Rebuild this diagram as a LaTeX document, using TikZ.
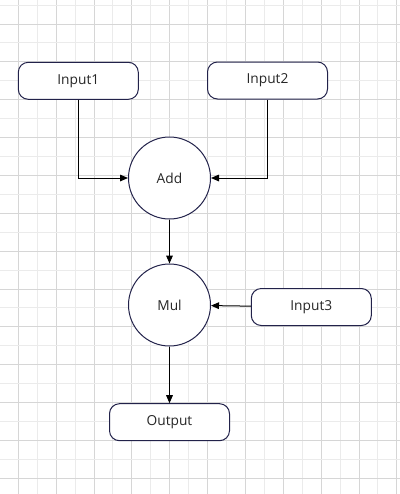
\documentclass[tikz,border=0pt]{standalone}
\usepackage{fontspec}
\setmainfont{Open Sans}
\usepackage{tikz}
\usetikzlibrary{positioning,arrows.meta}

\definecolor{boxline}{HTML}{22224A}
\definecolor{gridmajor}{HTML}{D6D6D6}
\definecolor{gridminor}{HTML}{EBEBEB}

\tikzset{
	inbox/.style={rectangle,rounded corners=7.5pt,draw=boxline,line width=0.75pt,fill=white,minimum width=90pt,minimum height=27.75pt,inner sep=0pt},
	opnode/.style={circle,draw=boxline,line width=0.75pt,fill=white,minimum size=61.5pt,inner sep=0pt},
	edge/.style={line width=0.75pt,-{Triangle[length=6pt,width=5pt]}}
}

\begin{document}
\begin{tikzpicture}[x=0.75pt,y=-0.75pt,every node/.style={font=\fontsize{10.3}{12}\selectfont,text=black!85}]

		\useasboundingbox (0,0) rectangle (400,494);
		\fill[white] (0,0) rectangle (400,494);

		%grid
		\foreach \k in {-1,...,20} {
			\pgfmathsetmacro{\gx}{18.3+\k*18.93}
			\pgfmathtruncatemacro{\odd}{mod(\k+2,2)}
			\ifnum\odd=1 \draw[gridminor,line width=0.75pt] (\gx,0) -- (\gx,494);
			\else \draw[gridmajor,line width=0.75pt] (\gx,0) -- (\gx,494); \fi
		}
		\foreach \k in {-1,...,24} {
			\pgfmathsetmacro{\gy}{24+\k*18.93}
			\pgfmathtruncatemacro{\odd}{mod(\k+2,2)}
			\ifnum\odd=1 \draw[gridminor,line width=0.75pt] (0,\gy) -- (400,\gy);
			\else \draw[gridmajor,line width=0.75pt] (0,\gy) -- (400,\gy); \fi
		}

		%input nodes
		\node[inbox] (in1) at (78.3,80.8) {Input1};
		\node[inbox] (in2) at (267.5,80.5) {Input2};
		\node[inbox] (in3) at (311.3,307) {Input3};

		%operation nodes
		\node[opnode] (add) at (169.5,178) {Add};
		\node[opnode] (mul) at (169.5,305) {Mul};

		%output node
		\node[inbox] (out) at (169.5,422.2) {Output};

		%edges
		\draw[edge] (in1) |- (add);
		\draw[edge] (in2) |- (add);
		\draw[edge] (add) -- (mul);
		\draw[edge] (in3) -- (mul);
		\draw[edge] (mul) -- (out);

\end{tikzpicture}
\end{document}
